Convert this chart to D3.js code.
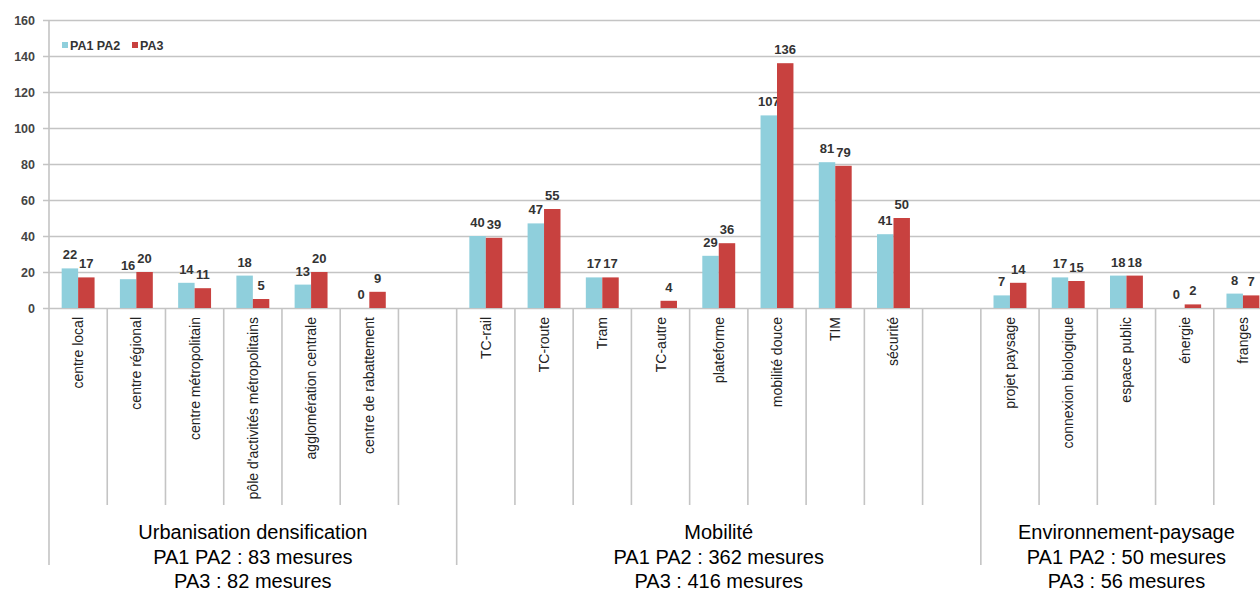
<!DOCTYPE html>
<html>
<head>
<meta charset="utf-8">
<script src="https://cdn.jsdelivr.net/npm/d3@7"></script>
<style>
  body { margin: 0; background: #fff; }
  svg { display: block; }
</style>
</head>
<body>
<script>
// chart values (empty strings are the spacer slots between groups)
var categories = ["centre local", "centre régional", "centre métropolitain",
    "pôle d'activités métropolitains", "agglomération centrale", "centre de rabattement", "",
    "TC-rail", "TC-route", "Tram", "TC-autre", "plateforme", "mobilité douce", "TIM", "sécurité", "",
    "projet paysage", "connexion biologique", "espace public", "énergie", "franges"];
var pa12 = [22, 16, 14, 18, 13, 0, null, 40, 47, 17, null, 29, 107, 81, 41, null, 7, 17, 18, 0, 8];
var pa3  = [17, 20, 11, 5, 20, 9, null, 39, 55, 17, 4, 36, 136, 79, 50, null, 14, 15, 18, 2, 7];
var seriesNames = ["PA1 PA2", "PA3"];
var yTicks = [0, 20, 40, 60, 80, 100, 120, 140, 160];

var groupNames = ["Urbanisation densification", "Mobilité", "Environnement-paysage"];
var groupPA12 = [83, 362, 50];
var groupPA3 = [82, 416, 56];
var groupStart = [0, 7, 16];   // first slot of each group
var groupEnd = [7, 16, 21];    // slot after the last one

var colors = ["#8fcfdc", "#c8413f"];

var svgWidth = 1260;
var svgHeight = 596;
var leftX = 49, slot = 58.24;
var topY = 20, zeroY = 308;

var svg = d3.select("body").append("svg")
    .attr("width", svgWidth)
    .attr("height", svgHeight);

var xScale = d3.scaleBand()
    .domain(d3.range(categories.length))
    .range([leftX, leftX + slot * categories.length])
    .padding(0);
var xEdge = d3.scaleLinear()
    .domain([0, categories.length])
    .range([leftX, leftX + slot * categories.length]);
var xInner = d3.scaleBand()
    .domain(seriesNames)
    .range([0, slot])
    .paddingInner(0)
    .paddingOuter(0.77);
var yScale = d3.scaleLinear()
    .domain([0, 160])
    .range([zeroY, topY]);

// gridlines + y labels
var y_axis = d3.axisLeft(yScale)
    .tickValues(yTicks)
    .tickSize(-(svgWidth - leftX + 6))
    .tickPadding(8);
var gy = svg.append("g")
    .attr("transform", "translate(" + (leftX - 6) + ",0)")
    .call(y_axis);
gy.select(".domain").remove();
gy.selectAll(".tick line")
    .attr("stroke", "#c4c4c4")
    .attr("stroke-width", 1.6);
gy.selectAll(".tick text")
    .attr("font-family", "Liberation Sans, Arial, sans-serif")
    .attr("font-size", 12.5)
    .attr("font-weight", "bold")
    .attr("fill", "#444");

// separators below the axis (group boundaries run longer)
var longEdges = groupStart;
svg.append("g").selectAll("line")
    .data(d3.range(categories.length + 1))
    .join("line")
    .attr("x1", function(d) { return xEdge(d); })
    .attr("x2", function(d) { return xEdge(d); })
    .attr("y1", function(d) { return d == 0 ? topY : zeroY; })
    .attr("y2", function(d) { return longEdges.indexOf(d) >= 0 ? 565 : 505; })
    .attr("stroke", "#c4c4c4")
    .attr("stroke-width", 1.6);

// bars
var series = [pa12, pa3];
series.forEach(function(vals, s) {
    var g = svg.append("g");
    var items = vals.map(function(v, i) { return { i: i, v: v }; })
        .filter(function(d) { return d.v != null; });
    g.selectAll("rect")
        .data(items)
        .join("rect")
        .attr("x", function(d) { return xScale(d.i) + xInner(seriesNames[s]); })
        .attr("y", function(d) { return yScale(d.v); })
        .attr("width", xInner.bandwidth())
        .attr("height", function(d) { return zeroY - yScale(d.v); })
        .attr("fill", colors[s]);
    g.selectAll("text")
        .data(items)
        .join("text")
        .attr("x", function(d) { return xScale(d.i) + xInner(seriesNames[s]) + xInner.bandwidth() / 2; })
        .attr("y", function(d) { return yScale(d.v) - 9; })
        .attr("text-anchor", "middle")
        .attr("font-family", "Liberation Sans, Arial, sans-serif")
        .attr("font-size", 13)
        .attr("font-weight", "bold")
        .attr("fill", "#333")
        .text(function(d) { return d.v; });
});

// category labels, rotated
svg.append("g").selectAll("text")
    .data(categories)
    .join("text")
    .attr("transform", function(d, i) {
        return "translate(" + (xScale(i) + slot / 2 + 5) + "," + (zeroY + 9) + ") rotate(-90)";
    })
    .attr("text-anchor", "end")
    .attr("font-family", "Liberation Sans Narrow, Liberation Sans, Arial, sans-serif")
    .attr("font-size", 14)
    .attr("fill", "#222")
    .text(function(d) { return d; });

// group titles
groupNames.forEach(function(name, k) {
    var cx = (xEdge(groupStart[k]) + xEdge(groupEnd[k])) / 2;
    var lines = [name, "PA1 PA2 : " + groupPA12[k] + " mesures", "PA3 : " + groupPA3[k] + " mesures"];
    svg.append("text")
        .attr("x", cx)
        .attr("y", 539)
        .attr("text-anchor", "middle")
        .attr("font-family", "Liberation Sans, Arial, sans-serif")
        .attr("font-size", 20)
        .attr("fill", "#000")
        .selectAll("tspan")
        .data(lines)
        .join("tspan")
        .attr("x", cx)
        .attr("dy", function(d, i) { return i == 0 ? 0 : 24.5; })
        .text(function(d) { return d; });
});

// legend
var legend = svg.append("g").attr("transform", "translate(62,45)");
var lx = [0, 70];
seriesNames.forEach(function(name, s) {
    legend.append("rect")
        .attr("x", lx[s])
        .attr("y", -3)
        .attr("width", 6)
        .attr("height", 6)
        .attr("fill", colors[s]);
    legend.append("text")
        .attr("x", lx[s] + 8)
        .attr("y", 4.5)
        .attr("font-family", "Liberation Sans, Arial, sans-serif")
        .attr("font-size", 12.5)
        .attr("font-weight", "bold")
        .attr("fill", "#333")
        .text(name);
});
</script>
</body>
</html>
